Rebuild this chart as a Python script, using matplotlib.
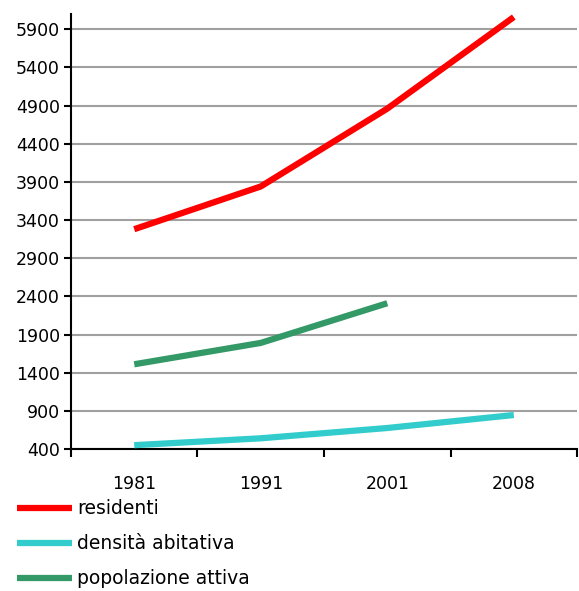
import numpy as np
import matplotlib
matplotlib.use('Agg')
import matplotlib.pyplot as plt

years = ['1981', '1991', '2001', '2008']
residenti = [3280, 3840, 4860, 6060]
densita = [450, 540, 675, 845]
popolazione = [1510, 1790, 2310]

y_ticks = list(range(400, 6000, 500))


def main():
	fig = plt.figure(figsize=(5.79, 5.91), dpi=100)
	ax = fig.add_axes([0.1226, 0.2403, 0.874, 0.736])

	x = np.arange(len(years))
	ax.plot(x, residenti, color='#ff0000', lw=4.5, solid_capstyle='butt', solid_joinstyle='round', label='residenti', zorder=3)
	ax.plot(x, densita, color='#33cccc', lw=4.5, solid_capstyle='butt', solid_joinstyle='round', label='densità abitativa', zorder=3)
	ax.plot(x[:len(popolazione)], popolazione, color='#339966', lw=4.5, solid_capstyle='butt', solid_joinstyle='round', label='popolazione attiva', zorder=3)

	ax.set_xlim(-0.5, len(years) - 0.5)
	ax.set_ylim(400, 6100)
	ax.set_yticks(y_ticks)
	ax.yaxis.grid(True, color='#a0a0a0', lw=1.5)
	ax.set_axisbelow(True)

	ax.set_xticks(np.arange(len(years) + 1) - 0.5)
	ax.set_xticklabels([])
	ax.set_xticks(x, minor=True)
	ax.set_xticklabels(years, minor=True)
	ax.tick_params(axis='x', which='major', length=6, width=1.5, direction='out')
	ax.tick_params(axis='x', which='minor', length=0, pad=19, labelsize=12.5)
	ax.tick_params(axis='y', length=5, width=1.5, direction='out', labelsize=12.5, pad=3)

	for s in ['top', 'right']:
		ax.spines[s].set_visible(False)
	for s in ['left', 'bottom']:
		ax.spines[s].set_linewidth(1.5)

	ax.legend(loc='upper left', bbox_to_anchor=(0.03, 0.155), bbox_transform=fig.transFigure,
		frameon=False, fontsize=13.5, handlelength=2.9, handletextpad=0.3, labelspacing=0.85,
		borderaxespad=0, borderpad=0)

	fig.savefig('out.png', dpi=100)


if __name__ == "__main__":
	main()
